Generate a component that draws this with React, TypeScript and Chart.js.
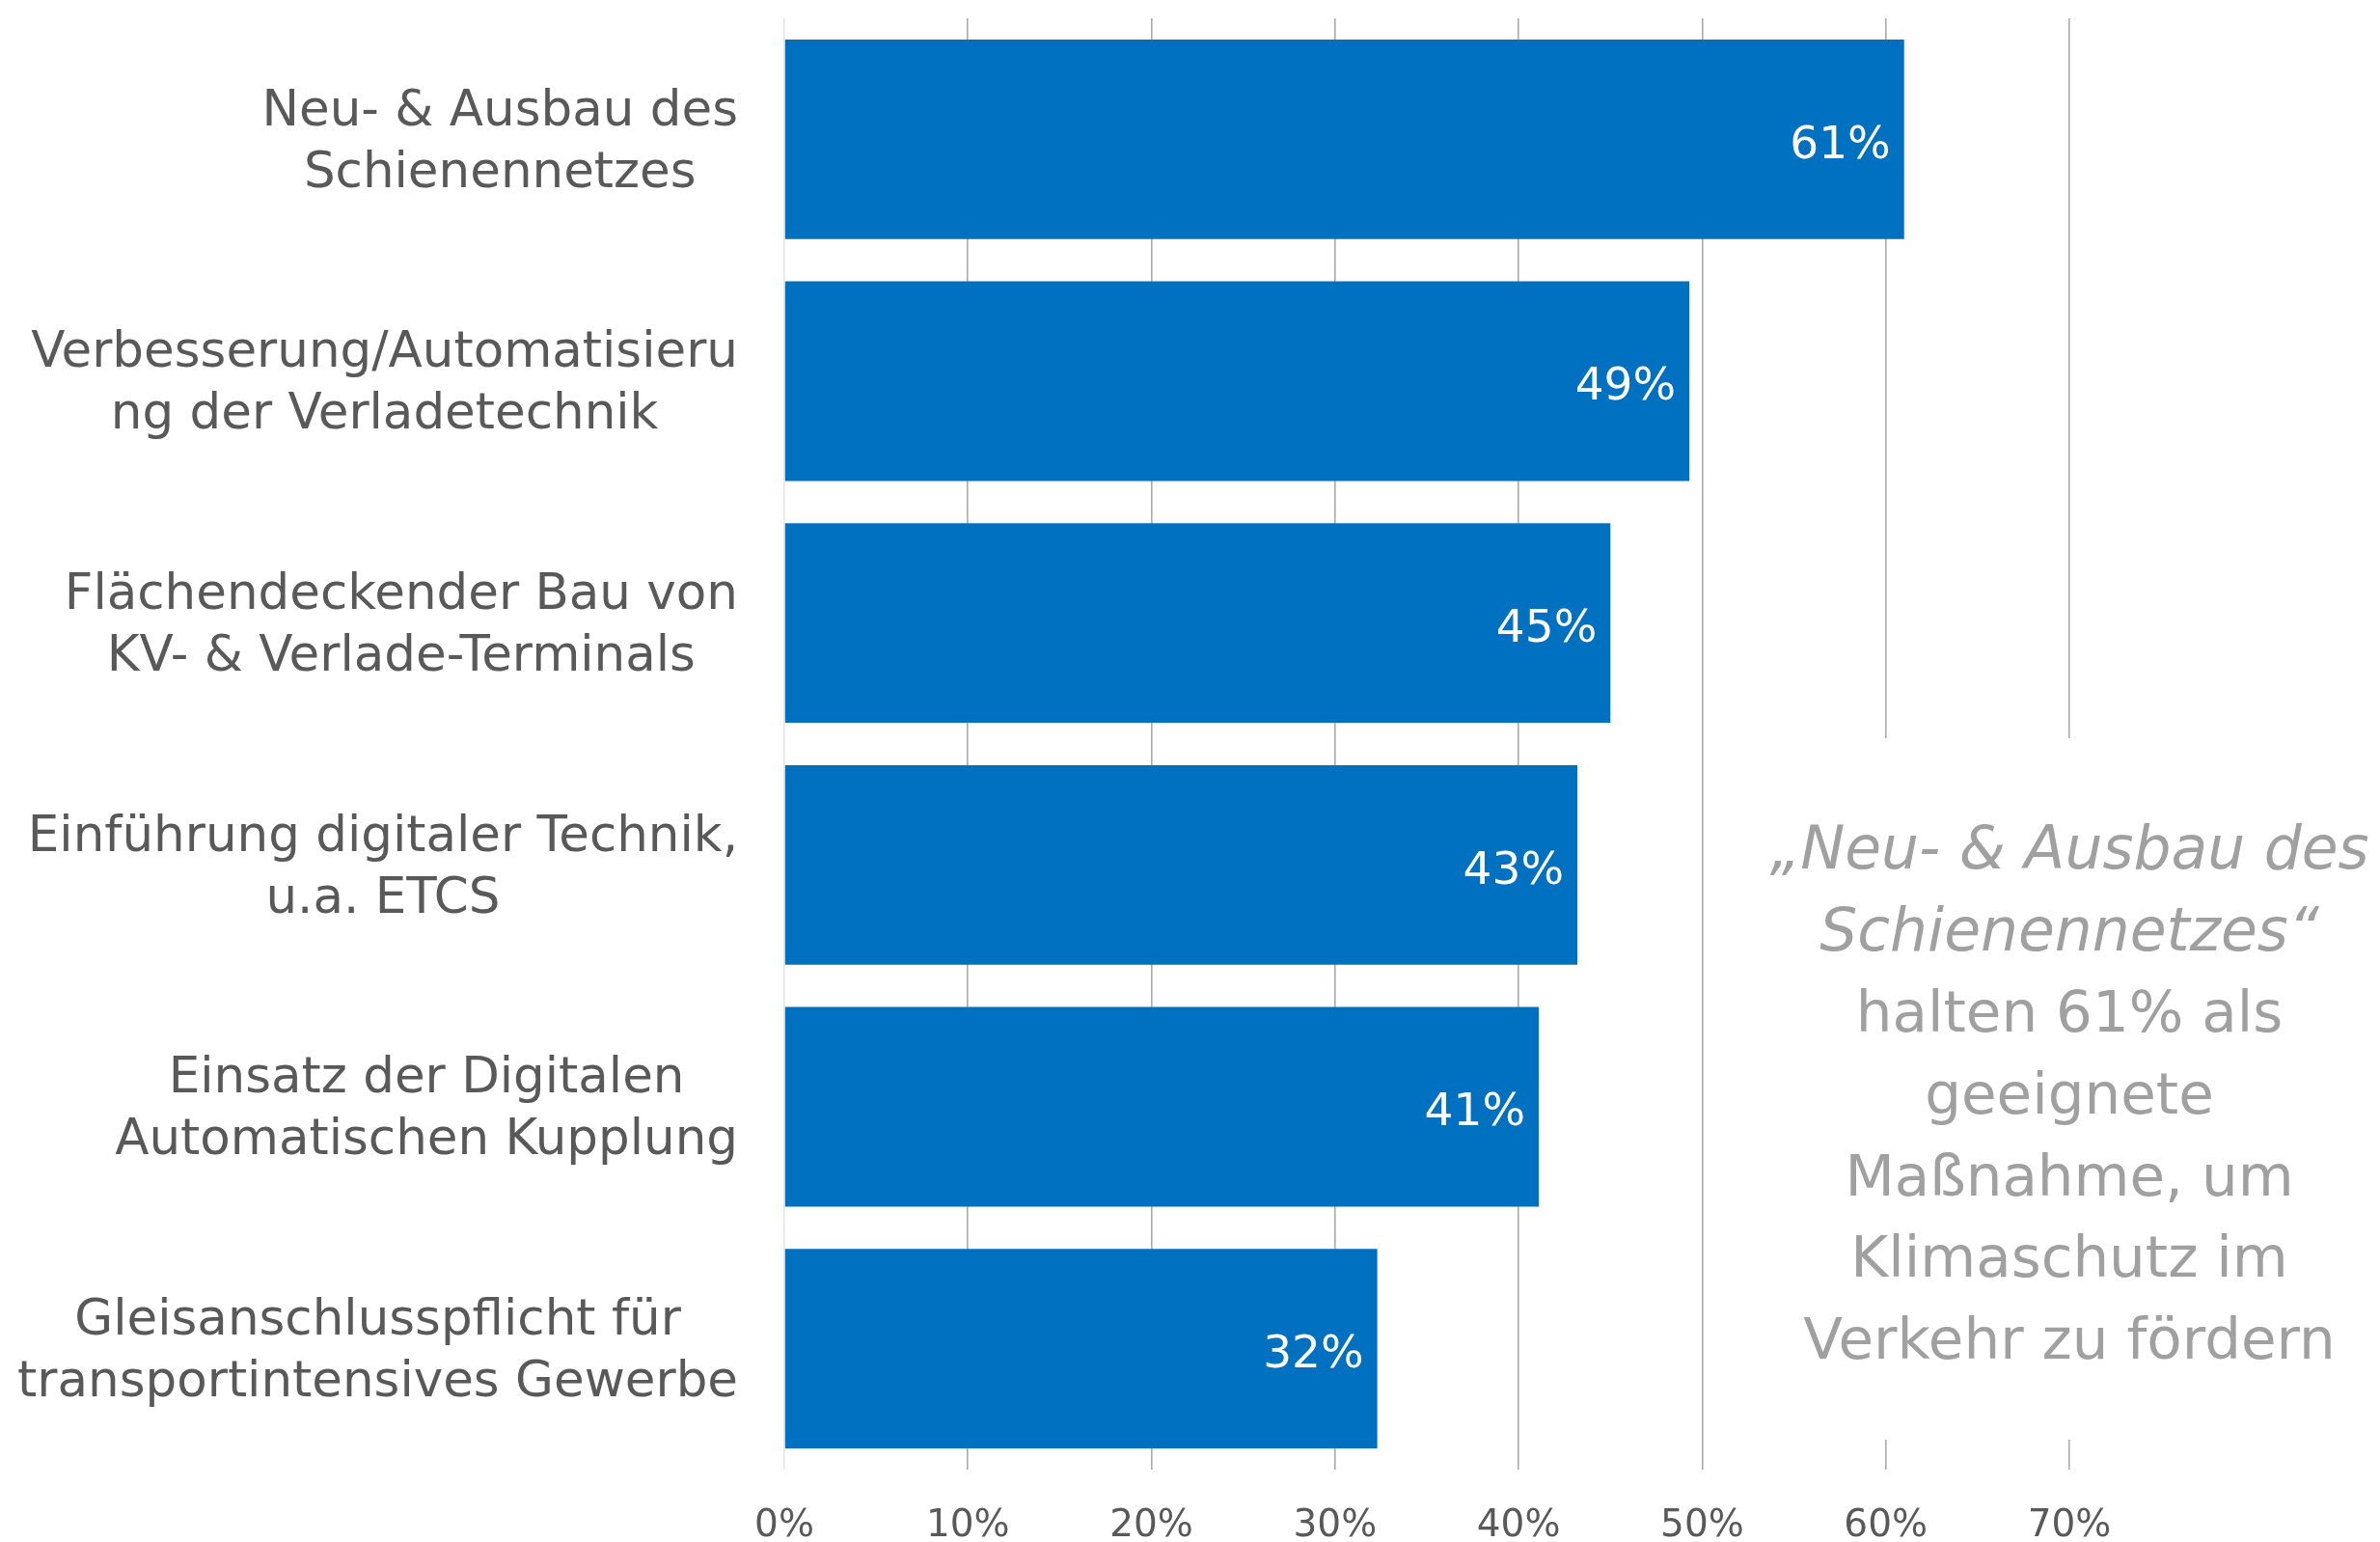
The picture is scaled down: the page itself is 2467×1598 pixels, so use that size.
import React, { useEffect, useRef } from "react";
import { Chart, registerables } from "chart.js";

Chart.register(...registerables);

const categories: string[][] = [
  ["Neu- & Ausbau des", "Schienennetzes"],
  ["Verbesserung/Automatisieru", "ng der Verladetechnik"],
  ["Flächendeckender Bau von", "KV- & Verlade-Terminals"],
  ["Einführung digitaler Technik,", "u.a. ETCS"],
  ["Einsatz der Digitalen", "Automatischen Kupplung"],
  ["Gleisanschlusspflicht für", "transportintensives Gewerbe"],
];
const values: number[] = [61.0, 49.3, 45.0, 43.2, 41.1, 32.3];
const valueLabels: string[] = ["61%", "49%", "45%", "43%", "41%", "32%"];
const axisMin = 0;
const axisMax = 70;
const axisStep = 10;
const noteItalicLines: string[] = ["„Neu- & Ausbau des", "Schienennetzes“"];
const noteLines: string[] = ["halten 61% als", "geeignete", "Maßnahme, um", "Klimaschutz im", "Verkehr zu fördern"];

const FONT = '"DejaVu Sans", sans-serif';
const W = 2467;
const H = 1598;

export default function App() {
  const ref = useRef<HTMLCanvasElement | null>(null);

  useEffect(() => {
    if (!ref.current) return;

    const customPlugin = {
      id: "custom",
      beforeDatasetsDraw(chart: any) {
        const ctx = chart.ctx;
        const xs = chart.scales.x;
        ctx.save();
        ctx.fillStyle = "#ffffff";
        const left = xs.getPixelForValue(51.5);
        ctx.fillRect(left, 765, W - left, 1492 - 765);
        ctx.restore();
      },
      afterDatasetsDraw(chart: any) {
        const ctx = chart.ctx;
        const meta = chart.getDatasetMeta(0);
        ctx.save();
        ctx.fillStyle = "#ffffff";
        ctx.font = `47px ${FONT}`;
        ctx.textAlign = "right";
        ctx.textBaseline = "middle";
        meta.data.forEach((el: any, i: number) => {
          ctx.fillText(valueLabels[i], el.x - 14, el.y + 7);
        });
        ctx.restore();
      },
      afterDraw(chart: any) {
        const ctx = chart.ctx;
        const ys = chart.scales.y;
        const xs = chart.scales.x;
        ctx.save();
        // category labels
        ctx.fillStyle = "#595959";
        ctx.font = `51.5px ${FONT}`;
        ctx.textAlign = "center";
        ctx.textBaseline = "middle";
        const right = chart.chartArea.left - 48;
        categories.forEach((lines, i) => {
          const cy = ys.getPixelForValue(i) + 4;
          const w = Math.max(...lines.map((l) => ctx.measureText(l).width));
          const cx = right - w / 2;
          const lh = 64;
          lines.forEach((l, j) => {
            ctx.fillText(l, cx, cy + (j - (lines.length - 1) / 2) * lh);
          });
        });
        // annotation
        ctx.fillStyle = "#a0a0a0";
        const cx = xs.getPixelForValue(axisMax);
        const lh = 84.8;
        const y0 = 884;
        let k = 0;
        ctx.font = `italic 61.5px ${FONT}`;
        noteItalicLines.forEach((l) => {
          ctx.fillText(l, cx, y0 + k * lh);
          k++;
        });
        ctx.font = `59.5px ${FONT}`;
        noteLines.forEach((l) => {
          ctx.fillText(l, cx, y0 + k * lh);
          k++;
        });
        ctx.restore();
      },
    };

    const chart = new Chart(ref.current, {
      type: "bar",
      data: {
        labels: categories.map((c) => c.join(" ")),
        datasets: [
          {
            data: values,
            backgroundColor: "#0070C0",
            borderWidth: 0,
            barPercentage: 0.825,
            categoryPercentage: 1,
          },
        ],
      },
      options: {
        indexAxis: "y",
        animation: false,
        responsive: false,
        maintainAspectRatio: false,
        layout: { padding: { top: 19, right: 322, bottom: 0, left: 0 } },
        plugins: {
          legend: { display: false },
          tooltip: { enabled: false },
        },
        scales: {
          x: {
            min: axisMin,
            max: axisMax,
            border: { display: false },
            grid: {
              drawTicks: false,
              color: (c: any) => (c.index === 0 ? "#e6e6e6" : "#ababab"),
              lineWidth: 1.6,
            },
            ticks: {
              stepSize: axisStep,
              padding: 35,
              color: "#595959",
              font: { family: FONT, size: 39 },
              callback: (v: any) => v + "%",
            },
            afterFit: (s: any) => {
              s.height = 75;
            },
          },
          y: {
            border: { display: false },
            grid: { display: false, drawTicks: false },
            ticks: { display: false },
            afterFit: (s: any) => {
              s.width = 813;
            },
          },
        },
      },
      plugins: [customPlugin],
    } as any);

    return () => chart.destroy();
  }, []);

  return (
    <div style={{ position: "fixed", left: 0, top: 0, width: W, height: H, background: "#fff" }}>
      <canvas ref={ref} width={W} height={H} style={{ display: "block", width: W, height: H }} />
    </div>
  );
}
